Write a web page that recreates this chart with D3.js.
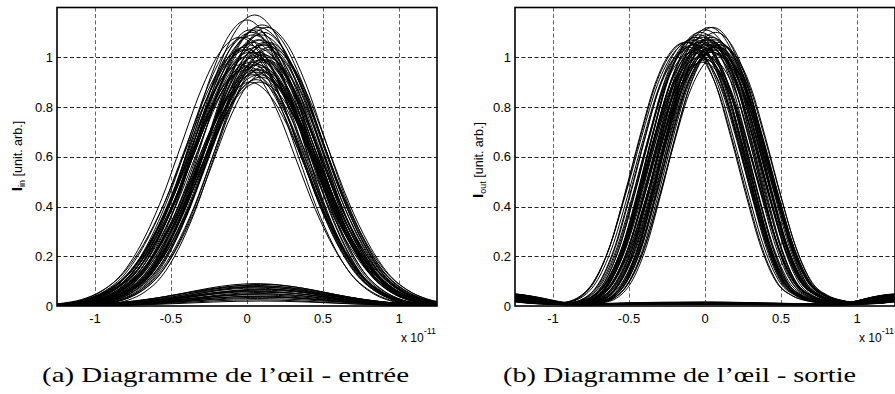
<!DOCTYPE html>
<html>
<head>
<meta charset="utf-8">
<script src="https://cdn.jsdelivr.net/npm/d3@7"></script>
<style>
  html, body { margin: 0; padding: 0; background: #fff; }
  svg { display: block; }
</style>
</head>
<body>
<svg id="chart" width="895" height="394"></svg>
<script>
// ---------------- DATA ----------------
// axis ticks (time in units of 1e-11 s)
const xTicks = [-1, -0.5, 0, 0.5, 1];
const xTickLabels = ["-1", "-0.5", "0", "0.5", "1"];
const yTicks = [0, 0.2, 0.4, 0.6, 0.8, 1];
const yTickLabels = ["0", "0.2", "0.4", "0.6", "0.8", "1"];
const xDomain = [-1.25, 1.25];
const yDomain = [0, 1.2];

const inPulseU = [-1.5, -1.25, -1.125, -1, -0.875, -0.75, -0.625, -0.5, -0.375, -0.25, -0.125, 0,
                  0.125, 0.25, 0.375, 0.5, 0.625, 0.75, 0.875, 1, 1.125, 1.25, 1.5];
const inPulseV = [0, 0.003, 0.01, 0.025, 0.06, 0.125, 0.24, 0.40, 0.60, 0.80, 0.945, 1,
                  0.945, 0.80, 0.60, 0.40, 0.24, 0.125, 0.06, 0.025, 0.01, 0.003, 0];

// input "1" traces: peak, centre, width factor
const inOneAmp = [1.17, 1.15, 1.13, 1.12, 1.12, 1.11, 1.10, 1.10, 1.09, 1.08, 1.07, 1.06, 1.06, 1.05,
                  1.05, 1.04, 1.03, 1.03, 1.02, 1.02, 1.01, 1.00, 1.00, 0.99, 0.99, 0.98, 0.97, 0.97,
                  0.96, 0.95, 0.95, 0.94, 0.93, 0.93, 0.92, 0.91, 0.90, 0.90, 1.08, 1.04,
                  1.09, 1.07, 1.05, 1.03, 1.01, 0.99, 0.97, 0.95, 1.11, 1.06, 1.02, 0.98, 0.94, 1.04, 1.00, 0.96];
const inOneCenter = [0.05, 0.00, 0.10, 0.08, 0.13, 0.06, 0.03, 0.11, 0.09, -0.02, 0.07, 0.12, 0.04, 0.01,
                     0.10, 0.06, 0.14, -0.03, 0.08, 0.02, 0.11, 0.05, -0.01, 0.09, 0.13, 0.03, 0.07, -0.04,
                     0.10, 0.06, 0.00, 0.12, 0.08, 0.04, 0.09, 0.06, 0.08, 0.02, -0.05, 0.15,
                     0.04, 0.09, 0.12, 0.00, 0.07, 0.11, 0.03, 0.08, 0.02, 0.14, 0.05, 0.10, 0.06, -0.02, 0.13, 0.01];
const inOneWidth = [1.00, 0.96, 1.04, 1.08, 1.02, 0.94, 1.06, 0.98, 1.10, 1.00, 0.92, 1.05, 1.08, 0.97,
                    1.01, 1.09, 0.95, 1.03, 0.90, 1.07, 0.99, 1.04, 0.93, 1.06, 0.96, 1.10, 1.02, 0.98,
                    0.88, 1.05, 1.00, 0.94, 1.08, 0.97, 1.03, 0.91, 1.06, 1.00, 1.02, 1.04,
                    1.05, 0.97, 1.01, 1.09, 0.95, 1.03, 1.07, 0.99, 0.93, 1.00, 1.06, 0.96, 1.04, 0.98, 1.02, 1.08];

// input "0" traces (small bumps)
const inZeroAmp = [0.09, 0.087, 0.083, 0.08, 0.076, 0.072, 0.068, 0.064, 0.06, 0.055, 0.05, 0.045,
                   0.04, 0.035, 0.03, 0.025, 0.02, 0.078, 0.066, 0.058, 0.048, 0.038];
const inZeroCenter = [0.06, 0.09, 0.04, 0.11, 0.07, 0.05, 0.10, 0.08, 0.06, 0.12, 0.09, 0.05,
                      0.08, 0.10, 0.07, 0.06, 0.09, 0.03, 0.12, 0.07, 0.10, 0.05];
const inZeroWidth = [1.22, 1.18, 1.25, 1.20, 1.28, 1.15, 1.22, 1.30, 1.18, 1.24, 1.20, 1.26,
                     1.16, 1.22, 1.28, 1.20, 1.24, 1.27, 1.19, 1.23, 1.17, 1.25];

// sampled pulse shape at the output (peak 1, centred at 0), with side lobes
const outPulseU = [-1.6, -1.4, -1.25, -1.1, -1.0, -0.9, -0.8, -0.7, -0.6, -0.5, -0.4, -0.3, -0.2, -0.1, 0,
                   0.1, 0.2, 0.3, 0.4, 0.5, 0.6, 0.7, 0.8, 0.9, 1.0, 1.1, 1.25, 1.4, 1.6];
const outPulseV = [0.045, 0.045, 0.035, 0.018, 0.010, 0.008, 0.012, 0.03, 0.09, 0.22, 0.42, 0.64, 0.84, 0.96, 1.0,
                   0.96, 0.84, 0.64, 0.42, 0.22, 0.09, 0.04, 0.02, 0.012, 0.010, 0.016, 0.035, 0.045, 0.045];

// output "1" traces
const outOneAmp = [1.12, 1.12, 1.11, 1.10, 1.10, 1.09, 1.08, 1.08, 1.07, 1.07, 1.07, 1.06, 1.06, 1.06,
                   1.05, 1.05, 1.05, 1.05, 1.04, 1.04, 1.04, 1.03, 1.03, 1.03, 1.02, 1.02, 1.01, 1.01,
                   1.00, 1.00, 0.99, 0.98, 1.06, 1.05, 1.07, 1.04, 1.08, 1.03, 1.06, 1.02,
                   1.09, 1.07, 1.05, 1.04, 1.06, 1.03, 1.08, 1.05, 1.02, 1.07, 1.04, 1.06, 1.05, 1.03];
const outOneCenter = [0.03, 0.05, 0.00, -0.03, 0.07, 0.01, -0.06, 0.04, -0.09, 0.02, 0.06, -0.12, -0.04, 0.08,
                      -0.07, 0.00, 0.03, 0.10, -0.10, -0.02, 0.05, -0.05, 0.01, 0.07, -0.08, 0.04, -0.01, 0.09,
                      -0.03, 0.02, 0.00, -0.02, -0.13, 0.06, -0.06, 0.08, -0.01, -0.11, 0.03, 0.05,
                      -0.04, 0.02, -0.08, 0.06, -0.01, 0.04, -0.06, 0.09, -0.03, 0.00, 0.07, -0.10, 0.03, -0.05];
const outOneWidth = [1.00, 0.96, 1.04, 1.02, 0.98, 1.06, 0.94, 1.08, 1.00, 0.92, 1.05, 1.02, 0.97, 1.04,
                     0.99, 1.07, 0.95, 1.00, 1.03, 0.90, 1.06, 0.98, 1.04, 0.96, 1.01, 1.08, 0.93, 0.99,
                     1.05, 0.97, 0.88, 1.02, 1.00, 1.04, 0.96, 1.02, 1.06, 0.98, 1.03, 0.95,
                     1.01, 1.05, 0.97, 1.03, 0.99, 1.07, 1.02, 0.96, 1.04, 1.00, 0.98, 1.06, 1.02, 0.97];

// output "0" traces (near-flat floor with ripples at the window edges)
const outZeroU = [-1.6, -1.4, -1.25, -1.1, -1.0, -0.8, -0.5, -0.25, 0, 0.25, 0.5, 0.8, 1.0, 1.1, 1.25, 1.4, 1.6];
const outZeroV = [0.045, 0.045, 0.04, 0.025, 0.015, 0.008, 0.012, 0.014, 0.015, 0.013, 0.010, 0.008, 0.012, 0.02, 0.04, 0.045, 0.045];
const outZeroAmp = [1.1, 1.0, 0.9, 0.8, 0.7, 0.6, 0.5, 0.4, 0.95, 0.75];
const outZeroCenter = [0.00, 0.03, -0.03, 0.05, -0.05, 0.02, -0.02, 0.00, 0.06, -0.06];

// ---------------- DRAWING ----------------
const svg = d3.select("#chart");
const yRange = [306, 7.5];

function tracesFrom(shapeU, shapeV, amps, centers, widths) {
  return amps.map((a, i) => shapeU.map((u, j) => ({
    x: centers[i] + u * (widths ? widths[i] : 1),
    y: a * shapeV[j]
  })));
}

function drawPanel(cfg) {
  const x = d3.scaleLinear().domain(xDomain).range([cfg.left, cfg.left + 380]);
  const y = d3.scaleLinear().domain(yDomain).range(yRange);
  const g = svg.append("g");

  const clipId = "clip-" + cfg.id;
  g.append("clipPath").attr("id", clipId)
    .append("rect")
    .attr("x", x(xDomain[0])).attr("y", y(yDomain[1]))
    .attr("width", x(xDomain[1]) - x(xDomain[0]))
    .attr("height", y(yDomain[0]) - y(yDomain[1]));

  // grid
  g.append("g").selectAll("line").data(xTicks).join("line")
    .attr("x1", d => Math.round(x(d)) + 0.5).attr("x2", d => Math.round(x(d)) + 0.5)
    .attr("y1", y(yDomain[1])).attr("y2", y(0))
    .attr("stroke", "#666").attr("stroke-width", 1).attr("stroke-dasharray", "4,2.5");
  g.append("g").selectAll("line").data(yTicks.filter(d => d > 0)).join("line")
    .attr("x1", x(xDomain[0])).attr("x2", x(xDomain[1]))
    .attr("y1", d => Math.round(y(d)) + 0.5).attr("y2", d => Math.round(y(d)) + 0.5)
    .attr("stroke", "#222").attr("stroke-width", 1).attr("stroke-dasharray", "4,2.5");

  // traces
  const line = d3.line().x(d => x(d.x)).y(d => y(d.y)).curve(d3.curveMonotoneX);
  const tg = g.append("g").attr("clip-path", `url(#${clipId})`);
  cfg.traces.forEach(t => {
    tg.append("path").attr("d", line(t)).attr("fill", "none")
      .attr("stroke", "#000").attr("stroke-width", 1);
  });

  // frame
  g.append("rect")
    .attr("x", x(xDomain[0])).attr("y", y(yDomain[1]))
    .attr("width", x(xDomain[1]) - x(xDomain[0]))
    .attr("height", y(yDomain[0]) - y(yDomain[1]))
    .attr("fill", "none").attr("stroke", "#000").attr("stroke-width", 1.6);

  // tick labels
  const font = "'Liberation Sans', Arial, Helvetica, sans-serif";
  g.append("g").selectAll("text").data(xTicks).join("text")
    .attr("x", d => x(d)).attr("y", 323)
    .attr("text-anchor", "middle").attr("font-family", font).attr("font-size", 13)
    .text((d, i) => xTickLabels[i]);
  g.append("g").selectAll("text").data(yTicks).join("text")
    .attr("x", x(xDomain[0]) - 4).attr("y", d => y(d) + 4.5)
    .attr("text-anchor", "end").attr("font-family", font).attr("font-size", 13)
    .text((d, i) => yTickLabels[i]);

  // exponent
  const ex = g.append("text").attr("x", cfg.expX).attr("y", 342)
    .attr("font-family", font).attr("font-size", 12);
  ex.append("tspan").text("x 10");
  ex.append("tspan").attr("dy", -8).attr("font-size", 9).text("-11");

  // y label
  const yl = g.append("text")
    .attr("transform", `translate(${cfg.labelX},${cfg.labelY}) rotate(-90)`)
    .attr("text-anchor", "middle").attr("font-family", font).attr("font-size", 12.5);
  yl.append("tspan").attr("font-weight", "bold").attr("font-size", 15).text("I");
  yl.append("tspan").attr("dy", 3).attr("font-size", 9).text(cfg.sub);
  yl.append("tspan").attr("dy", -3).text(" [unit. arb.]");

  // caption
  svg.append("text").attr("x", cfg.capX).attr("y", 382)
    .attr("font-family", "'Liberation Serif', 'Times New Roman', serif").attr("font-size", 21)
    .attr("textLength", cfg.capW).attr("lengthAdjust", "spacingAndGlyphs")
    .text(cfg.caption);
}

drawPanel({
  id: "a", left: 57, expX: 401, labelX: 22, labelY: 156, sub: "in",
  capX: 42, capW: 367, caption: "(a) Diagramme de l\u2019\u0153il - entr\u00e9e",
  traces: tracesFrom(inPulseU, inPulseV, inOneAmp, inOneCenter, inOneWidth)
    .concat(tracesFrom(inPulseU, inPulseV, inZeroAmp, inZeroCenter, inZeroWidth))
});

drawPanel({
  id: "b", left: 515, expX: 859, labelX: 483, labelY: 160, sub: "out",
  capX: 503, capW: 353, caption: "(b) Diagramme de l\u2019\u0153il - sortie",
  traces: tracesFrom(outPulseU, outPulseV, outOneAmp, outOneCenter, outOneWidth)
    .concat(tracesFrom(outZeroU, outZeroV, outZeroAmp, outZeroCenter, null))
});
</script>
</body>
</html>
